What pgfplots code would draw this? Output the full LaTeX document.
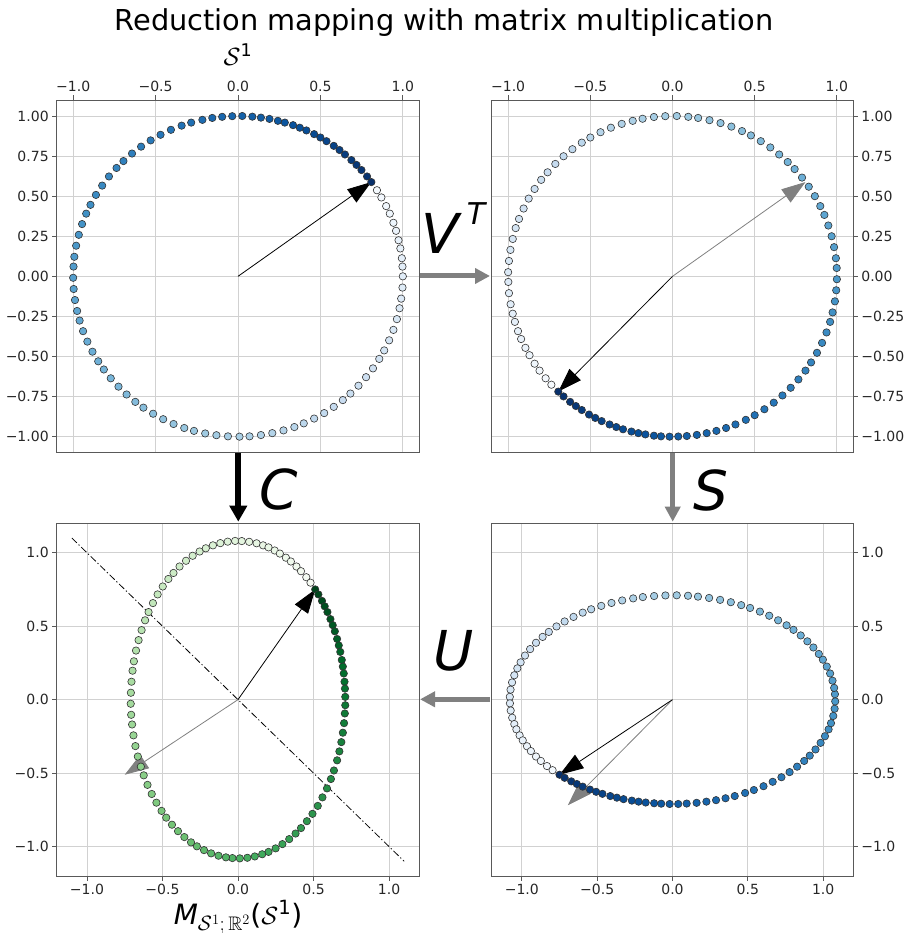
\documentclass[border=0pt]{standalone}
\usepackage{fontspec}
\setmainfont{DejaVu Sans}
\usepackage{amssymb}
\usepackage{pgfplots}
\usepackage{pgfplotstable}
\pgfplotsset{compat=1.18}
\usetikzlibrary{arrows.meta}
\definecolor{spine}{gray}{0.35}
\definecolor{mgray}{RGB}{128,128,128}
\pgfplotsset{
 colormap={blues}{rgb255=(247,251,255) rgb255=(222,235,247) rgb255=(198,219,239) rgb255=(158,202,225) rgb255=(107,174,214) rgb255=(66,146,198) rgb255=(33,113,181) rgb255=(8,81,156) rgb255=(8,48,107)},
 colormap={greens}{rgb255=(247,252,245) rgb255=(229,245,224) rgb255=(199,233,192) rgb255=(161,217,155) rgb255=(116,196,118) rgb255=(65,171,93) rgb255=(35,139,69) rgb255=(0,109,44) rgb255=(0,68,27)},
 panel/.style={
  scale only axis, width=362.6pt, height=352.7pt,
  axis line style={spine, line width=0.8pt},
  grid=major, major grid style={black!18, line width=0.8pt},
  tick align=outside, major tick length=4.5pt,
  tick style={spine, line width=0.8pt},
  ticklabel style={font=\fontsize{14}{16}\selectfont, text=black!85},
  point meta min=0, point meta max=1,
 },
 dots/.style={scatter, only marks, mark=*, mark size=3.7pt, point meta=explicit,
  scatter/use mapped color={draw=black!80, fill=mapped color},
  mark options={line width=0.6pt}},
 vec/.style={black, line width=0.8pt, -{Triangle[width=16pt,length=24pt]}},
 gvec/.style={mgray, line width=0.8pt, -{Triangle[width=16pt,length=24pt]}},
}
\pgfplotstableread{
c tlx tly trx try brx bry blx bly
1.00 .809 .588 -.695 -.719 -.750 -.511 .511 .750
0.99 .783 .623 -.663 -.749 -.716 -.532 .532 .716
0.98 .749 .663 -.623 -.783 -.672 -.556 .556 .672
0.97 .719 .695 -.588 -.809 -.635 -.574 .574 .635
0.96 .688 .725 -.552 -.834 -.596 -.592 .592 .596
0.95 .649 .760 -.508 -.862 -.548 -.612 .612 .548
0.94 .616 .788 -.470 -.883 -.507 -.627 .627 .507
0.93 .581 .814 -.431 -.903 -.465 -.641 .641 .465
0.92 .537 .843 -.383 -.924 -.413 -.656 .656 .413
0.91 .500 .866 -.342 -.940 -.369 -.667 .667 .369
0.90 .462 .887 -.301 -.954 -.325 -.677 .677 .325
0.89 .415 .910 -.250 -.968 -.270 -.687 .687 .270
0.88 .375 .927 -.208 -.978 -.225 -.694 .694 .225
0.87 .334 .943 -.165 -.986 -.178 -.700 .700 .178
0.86 .284 .959 -.113 -.994 -.122 -.705 .705 .122
0.85 .242 .970 -.070 -.998 -.075 -.708 .708 .075
0.84 .191 .982 -.018 -1.000 -.019 -.710 .710 .019
0.83 .139 .990 .035 -.999 .038 -.710 .710 -.038
0.82 .087 .996 .087 -.996 .094 -.707 .707 -.094
0.81 .026 1.000 .148 -.989 .160 -.702 .702 -.160
0.80 -.035 .999 .208 -.978 .225 -.694 .694 -.225
0.79 -.096 .995 .267 -.964 .289 -.684 .684 -.289
0.78 -.156 .988 .326 -.946 .352 -.671 .671 -.352
0.77 -.216 .976 .383 -.924 .413 -.656 .656 -.413
0.76 -.284 .959 .446 -.895 .482 -.635 .635 -.482
0.75 -.342 .940 .500 -.866 .540 -.615 .615 -.540
0.74 -.407 .914 .559 -.829 .604 -.589 .589 -.604
0.73 -.470 .883 .616 -.788 .665 -.559 .559 -.665
0.72 -.530 .848 .669 -.743 .723 -.528 .528 -.723
0.71 -.588 .809 .719 -.695 .777 -.493 .493 -.777
0.70 -.643 .766 .766 -.643 .827 -.456 .456 -.827
0.69 -.695 .719 .809 -.588 .874 -.417 .417 -.874
0.68 -.737 .676 .843 -.537 .911 -.381 .381 -.911
0.67 -.783 .623 .879 -.477 .949 -.339 .339 -.949
0.66 -.824 .566 .910 -.415 .983 -.294 .294 -.983
0.65 -.862 .508 .937 -.350 1.012 -.249 .249 -1.012
0.64 -.895 .446 .959 -.284 1.036 -.202 .202 -1.036
0.63 -.921 .391 .974 -.225 1.052 -.160 .160 -1.052
0.62 -.946 .326 .988 -.156 1.067 -.111 .111 -1.067
0.61 -.966 .259 .996 -.087 1.076 -.062 .062 -1.076
0.60 -.982 .191 1.000 -.018 1.080 -.012 .012 -1.080
0.59 -.993 .122 .999 .052 1.078 .037 -.037 -1.078
0.58 -.998 .061 .994 .113 1.073 .080 -.080 -1.073
0.57 -1.000 -.009 .983 .182 1.062 .129 -.129 -1.062
0.56 -.997 -.079 .968 .250 1.046 .178 -.178 -1.046
0.55 -.989 -.148 .948 .317 1.024 .225 -.225 -1.024
0.54 -.976 -.216 .924 .383 .998 .272 -.272 -.998
0.53 -.961 -.276 .899 .438 .971 .311 -.311 -.971
0.52 -.940 -.342 .866 .500 .935 .355 -.355 -.935
0.51 -.914 -.407 .829 .559 .895 .397 -.397 -.895
0.50 -.883 -.470 .788 .616 .851 .437 -.437 -.851
0.49 -.848 -.530 .743 .669 .803 .475 -.475 -.803
0.48 -.814 -.581 .701 .713 .757 .506 -.506 -.757
0.47 -.772 -.636 .649 .760 .701 .540 -.540 -.701
0.46 -.725 -.688 .595 .804 .642 .571 -.571 -.642
0.45 -.676 -.737 .537 .843 .580 .599 -.599 -.580
0.44 -.623 -.783 .477 .879 .515 .624 -.624 -.515
0.43 -.574 -.819 .423 .906 .456 .643 -.643 -.456
0.42 -.515 -.857 .358 .934 .387 .663 -.663 -.387
0.41 -.454 -.891 .292 .956 .316 .679 -.679 -.316
0.40 -.391 -.921 .225 .974 .243 .692 -.692 -.243
0.39 -.326 -.946 .156 .988 .169 .701 -.701 -.169
0.38 -.267 -.964 .096 .995 .103 .707 -.707 -.103
0.37 -.199 -.980 .026 1.000 .028 .710 -.710 -.028
0.36 -.131 -.991 -.044 .999 -.047 .709 -.709 .047
0.35 -.061 -.998 -.113 .994 -.122 .705 -.705 .122
0.34 .009 -1.000 -.182 .983 -.197 .698 -.698 .197
0.33 .070 -.998 -.242 .970 -.261 .689 -.689 .261
0.32 .139 -.990 -.309 .951 -.334 .675 -.675 .334
0.31 .208 -.978 -.375 .927 -.405 .658 -.658 .405
0.30 .276 -.961 -.438 .899 -.473 .638 -.638 .473
0.29 .342 -.940 -.500 .866 -.540 .615 -.615 .540
0.28 .399 -.917 -.552 .834 -.596 .592 -.592 .596
0.27 .462 -.887 -.609 .793 -.657 .563 -.563 .657
0.26 .523 -.853 -.663 .749 -.716 .532 -.532 .716
0.25 .581 -.814 -.713 .701 -.770 .498 -.498 .770
0.24 .636 -.772 -.760 .649 -.821 .461 -.461 .821
0.23 .682 -.731 -.799 .602 -.862 .427 -.427 .862
0.22 .731 -.682 -.839 .545 -.906 .387 -.387 .906
0.21 .777 -.629 -.875 .485 -.945 .344 -.344 .945
0.20 .819 -.574 -.906 .423 -.979 .300 -.300 .979
0.19 .857 -.515 -.934 .358 -1.008 .254 -.254 1.008
0.18 .887 -.462 -.954 .301 -1.030 .213 -.213 1.030
0.17 .917 -.399 -.972 .233 -1.050 .166 -.166 1.050
0.16 .943 -.334 -.986 .165 -1.065 .117 -.117 1.065
0.15 .964 -.267 -.995 .096 -1.075 .068 -.068 1.075
0.14 .980 -.199 -1.000 .026 -1.080 .019 -.019 1.080
0.13 .990 -.139 -.999 -.035 -1.079 -.025 .025 1.079
0.12 .998 -.070 -.995 -.105 -1.074 -.074 .074 1.074
0.11 1.000 .000 -.985 -.174 -1.064 -.123 .123 1.064
0.10 .998 .061 -.972 -.233 -1.050 -.166 .166 1.050
0.09 .994 .113 -.959 -.284 -1.036 -.202 .202 1.036
0.08 .985 .174 -.940 -.342 -1.015 -.243 .243 1.015
0.07 .974 .225 -.921 -.391 -.994 -.277 .277 .994
0.06 .959 .284 -.895 -.446 -.966 -.317 .317 .966
0.05 .943 .334 -.870 -.492 -.940 -.350 .350 .940
0.04 .921 .391 -.839 -.545 -.906 -.387 .387 .906
0.03 .899 .438 -.809 -.588 -.874 -.417 .417 .874
0.02 .870 .492 -.772 -.636 -.833 -.452 .452 .833
0.01 .843 .537 -.737 -.676 -.796 -.480 .480 .796
}\pts
\begin{document}
\begin{tikzpicture}
\path[use as bounding box] (0,0) rectangle (904pt,933pt);
% top left
\begin{axis}[panel, at={(56.7pt,480.3pt)}, anchor=south west, colormap name=blues,
  xmin=-1.1,xmax=1.1,ymin=-1.1,ymax=1.1,
  xtick={-1,-0.5,0,0.5,1}, xticklabels={−1.0,−0.5,0.0,0.5,1.0},
  ytick={-1,-0.75,-0.5,-0.25,0,0.25,0.5,0.75,1},
  yticklabels={−1.00,−0.75,−0.50,−0.25,0.00,0.25,0.50,0.75,1.00},
  xtick pos=right, xticklabel pos=right, ytick pos=left]
\addplot[dots] table[x=tlx, y=tly, meta=c] {\pts};
\addplot[vec] coordinates {(0,0) (0.809,0.588)};
\end{axis}
% top right
\begin{axis}[panel, at={(491.7pt,480.3pt)}, anchor=south west, width=361.6pt, colormap name=blues,
  xmin=-1.1,xmax=1.1,ymin=-1.1,ymax=1.1,
  xtick={-1,-0.5,0,0.5,1}, xticklabels={−1.0,−0.5,0.0,0.5,1.0},
  ytick={-1,-0.75,-0.5,-0.25,0,0.25,0.5,0.75,1},
  yticklabels={−1.00,−0.75,−0.50,−0.25,0.00,0.25,0.50,0.75,1.00},
  xtick pos=right, xticklabel pos=right, ytick pos=right, yticklabel pos=right]
\addplot[dots] table[x=trx, y=try, meta=c] {\pts};
\addplot[gvec] coordinates {(0,0) (0.809,0.588)};
\addplot[vec] coordinates {(0,0) (-0.695,-0.719)};
\end{axis}
% bottom left
\begin{axis}[panel, at={(56.7pt,57pt)}, anchor=south west, colormap name=greens,
  xmin=-1.2,xmax=1.2,ymin=-1.2,ymax=1.2,
  xtick={-1,-0.5,0,0.5,1}, xticklabels={−1.0,−0.5,0.0,0.5,1.0},
  ytick={-1,-0.5,0,0.5,1}, yticklabels={−1.0,−0.5,0.0,0.5,1.0},
  xtick pos=left, ytick pos=left]
\addplot[dots] table[x=blx, y=bly, meta=c] {\pts};
\addplot[black, line width=0.8pt, dash pattern=on 7pt off 2.5pt on 1.2pt off 2.5pt] coordinates {(-1.1,1.1) (1.1,-1.1)};
\addplot[gvec] coordinates {(0,0) (-0.750,-0.511)};
\addplot[vec] coordinates {(0,0) (0.511,0.750)};
\end{axis}
% bottom right
\begin{axis}[panel, at={(491.7pt,57pt)}, anchor=south west, width=361.6pt, colormap name=blues,
  xmin=-1.2,xmax=1.2,ymin=-1.2,ymax=1.2,
  xtick={-1,-0.5,0,0.5,1}, xticklabels={−1.0,−0.5,0.0,0.5,1.0},
  ytick={-1,-0.5,0,0.5,1}, yticklabels={−1.0,−0.5,0.0,0.5,1.0},
  xtick pos=left, ytick pos=right, yticklabel pos=right]
\addplot[dots] table[x=brx, y=bry, meta=c] {\pts};
\addplot[gvec] coordinates {(0,0) (-0.695,-0.719)};
\addplot[vec] coordinates {(0,0) (-0.750,-0.511)};
\end{axis}
% texts
\node[anchor=base, inner sep=0, font=\fontsize{28.8}{32}\selectfont] at (444pt,902pt) {Reduction mapping with matrix multiplication};
\node[anchor=base, inner sep=0, font=\fontsize{25}{28}\selectfont] at (238pt,867pt) {$\mathcal{S}$\textsuperscript{1}};
\node[anchor=base, inner sep=0, font=\fontsize{28}{30}\selectfont] at (238pt,9pt) {\textit{M}$_{\mathcal{S}^{1};\,\mathbb{R}^{2}}$($\mathcal{S}$\textsuperscript{1})};
\node[anchor=base west, inner sep=0, font=\fontsize{55}{60}\selectfont\itshape] at (421.7pt,679.7pt) {V};
\node[anchor=base west, inner sep=0, font=\fontsize{30}{32}\selectfont\itshape] at (466.7pt,708pt) {T};
\node[anchor=base west, inner sep=0, font=\fontsize{55}{60}\selectfont\itshape] at (259.3pt,423.7pt) {C};
\node[anchor=base west, inner sep=0, font=\fontsize{55}{60}\selectfont\itshape] at (693pt,422pt) {S};
\node[anchor=base west, inner sep=0, font=\fontsize{55}{60}\selectfont\itshape] at (433pt,262pt) {U};
% connecting arrows
\draw[mgray, line width=5pt, -{Triangle[width=15pt,length=15pt]}] (420pt,657pt) -- (490pt,657pt);
\draw[black, line width=6pt, -{Triangle[width=17pt,length=16pt]}] (238.3pt,480pt) -- (238.3pt,411.3pt);
\draw[mgray, line width=5pt, -{Triangle[width=15pt,length=15pt]}] (672.7pt,480pt) -- (672.7pt,411.3pt);
\draw[mgray, line width=5pt, -{Triangle[width=15pt,length=15pt]}] (490pt,233.7pt) -- (420pt,233.7pt);
\end{tikzpicture}
\end{document}
